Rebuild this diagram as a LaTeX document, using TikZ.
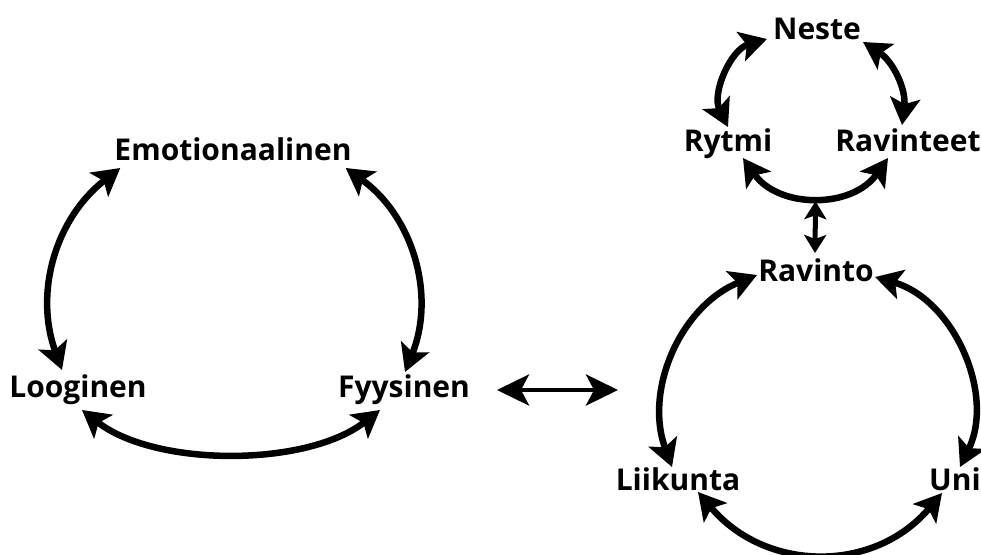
\documentclass[tikz,border=0pt]{standalone}
\usepackage{fontspec}
\setmainfont{Open Sans}
\usepackage{tikz}
\usetikzlibrary{arrows.meta}

\begin{document}
\begin{tikzpicture}[x=1pt,y=1pt]
	\tikzstyle{word}=[anchor=base,inner sep=0pt,font=\fontsize{30}{36}\selectfont\bfseries]
	\tikzstyle{link}=[line width=6.5pt,<->,>={Stealth[length=27pt,width=30pt,inset=6pt]}]
	\tikzstyle{bridge}=[line width=4.5pt,<->,>={Stealth[length=32pt,width=31pt,inset=8pt]}]
	\tikzstyle{stub}=[line width=5pt,<->,>={Stealth[length=18pt,width=22pt,inset=4pt]}]
	\useasboundingbox (0,0) rectangle (981,554);

	% left circle
	\node[word](emo) at (233,393) {Emotionaalinen};
	\node[word](loog) at (78,157) {Looginen};
	\node[word](fyy) at (404,157) {Fyysinen};
	\draw[link]([shift={(6,-7)}]emo.base west) to[bend right=36] ([shift={(-16,27)}]loog.base);
	\draw[link]([shift={(-6,-7)}]emo.base east) to[bend left=38] ([shift={(1,25)}]fyy.base);
	\draw[link]([shift={(4,-13)}]loog.base) to[out=-38,in=-142,looseness=0.8] ([shift={(-24,-13)}]fyy.base);

	% small circle
	\node[word](neste) at (817,514) {Neste};
	\node[word](rytmi) at (728,402) {Rytmi};
	\node[word](ravinteet) at (908,402) {Ravinteet};
	\draw[link]([shift={(-50,1)}]neste.base) to[bend right=50] ([shift={(0,25)}]rytmi.base);
	\draw[link]([shift={(46,-2)}]neste.base) to[bend left=32] ([shift={(-6,27)}]ravinteet.base);
	\draw[link]([shift={(15,-6)}]rytmi.base) to[out=-55,in=-125,looseness=1.1] node[coordinate,pos=0.5](dip){} ([shift={(-20,-6)}]ravinteet.base);

	% right circle
	\node[word](ravinto) at (816,272) {Ravinto};
	\node[word](liik) at (678,64) {Liikunta};
	\node[word](uni) at (955,64) {Uni};
	\draw[stub]([yshift=-5]dip) -- ([shift={(-1,29)}]ravinto.base);
	\draw[link]([shift={(-59,7)}]ravinto.base) to[bend right=44] ([shift={(-6,23)}]liik.base);
	\draw[link]([shift={(59,5)}]ravinto.base) to[bend left=50] ([shift={(5,23)}]uni.base);
	\draw[link]([shift={(20,-2)}]liik.base) to[out=-50,in=-130,looseness=1.1] ([shift={(-13,-3)}]uni.base);

	\coordinate (gap) at (618,164);
	\draw[bridge]([shift={(93,7)}]fyy.base) -- (gap);
\end{tikzpicture}
\end{document}
